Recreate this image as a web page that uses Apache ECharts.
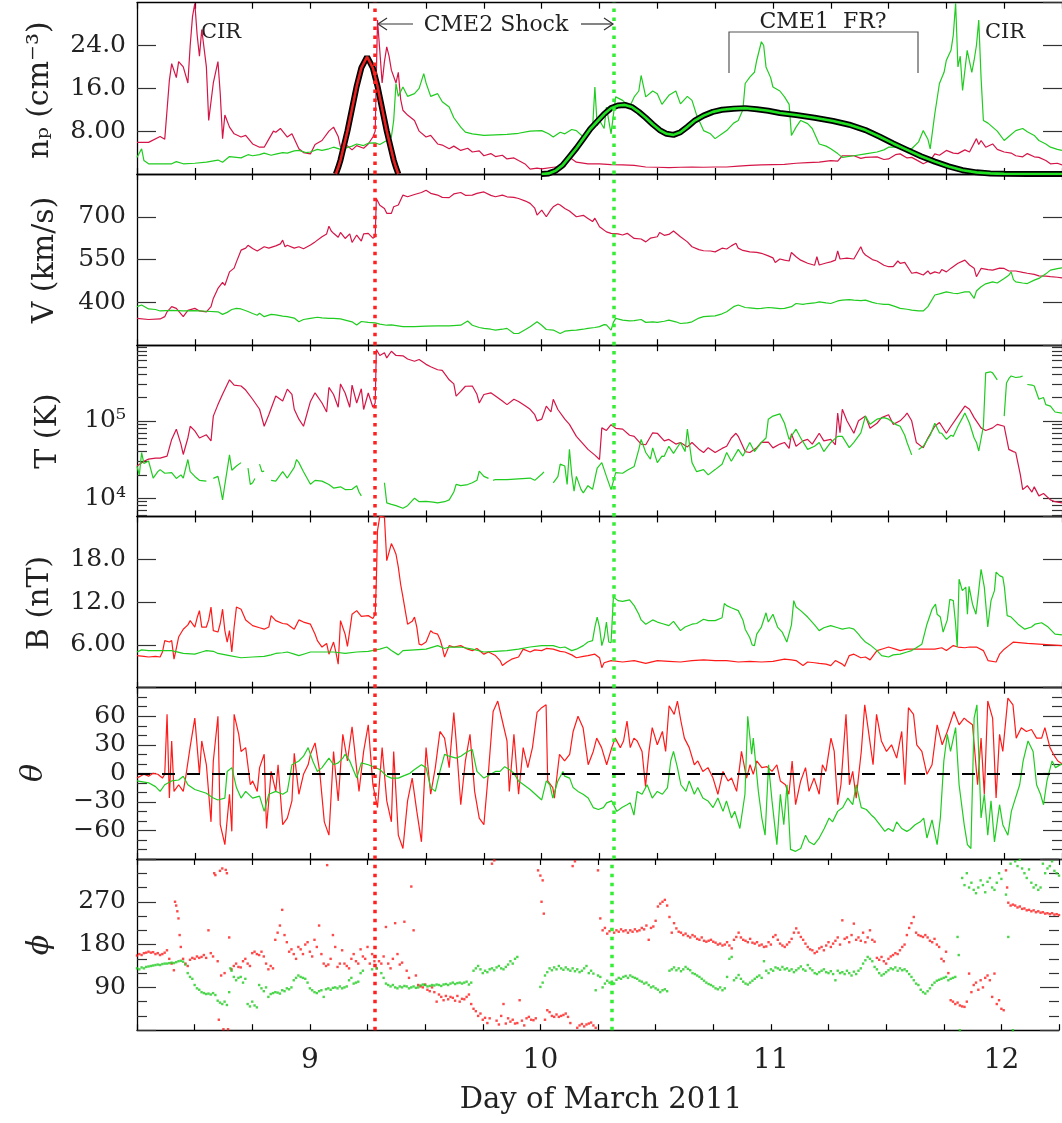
<!DOCTYPE html>
<html>
<head>
<meta charset="utf-8">
<title>Day of March 2011</title>
<script src="https://cdn.jsdelivr.net/npm/echarts@6.0.0/dist/echarts.min.js"></script>
<style>
  html, body { margin: 0; padding: 0; background: #fff; }
  #main { width: 1062px; height: 1123px; }
</style>
</head>
<body>
<div id="main"></div>
<script>
// day of March 2011
const dayMin = 8.25
const dayMax = 12.25
const shockRed = 9.28
const shockGreen = 10.31

// n_p (cm^-3)
const npRed = [[8.25,5.9],[8.30,5.9],[8.35,7.0],[8.37,6.5],[8.38,12],[8.39,17.5],[8.40,20.6],[8.42,18],[8.43,21],[8.45,20],[8.47,17],[8.48,24],[8.49,29.4],[8.50,31.9],[8.51,26],[8.52,22],[8.53,27],[8.55,20],[8.56,10],[8.58,17],[8.60,21],[8.61,15],[8.62,6.6],[8.63,11],[8.65,8.75],[8.67,7.5],[8.70,6.9],[8.72,7.2],[8.75,5.6],[8.78,5.0],[8.80,5.0],[8.82,6.5],[8.84,8.0],[8.85,7.8],[8.87,8.5],[8.90,6.9],[8.92,7.5],[8.95,4.7],[8.97,4.0],[9.00,3.75],[9.02,5.5],[9.05,6.25],[9.08,8.0],[9.10,8.75],[9.12,7.0],[9.13,5.0],[9.15,5.6],[9.18,4.5],[9.20,5.3],[9.23,4.8],[9.25,5.6],[9.27,6.9],[9.28,8],[9.29,28.75],[9.30,23],[9.31,17],[9.32,21],[9.33,23.75],[9.34,22],[9.35,19.4],[9.37,17],[9.38,19],[9.39,14],[9.40,11.9],[9.42,11],[9.45,10],[9.47,8],[9.50,6.9],[9.52,7.2],[9.55,5.6],[9.57,5.4],[9.60,4.7],[9.62,5.2],[9.65,4.4],[9.68,4.8],[9.70,4.1],[9.73,4.3],[9.75,3.4],[9.78,3.8],[9.80,3.25],[9.83,3.5],[9.85,2.8],[9.88,3.0],[9.90,2.5],[9.93,1.8],[9.95,0.9],[9.98,1.1],[10.0,0.95],[10.05,1.25],[10.10,1.4],[10.12,3.1],[10.15,2.2],[10.20,1.9],[10.25,1.9],[10.30,1.75],[10.35,1.7],[10.40,1.6],[10.45,1.3],[10.50,1.25],[10.55,1.2],[10.60,1.25],[10.65,1.3],[10.70,1.25],[10.75,1.3],[10.80,1.3],[10.85,1.45],[10.90,1.6],[10.95,1.7],[11.0,1.75],[11.05,1.8],[11.10,2.0],[11.15,2.1],[11.20,2.2],[11.25,2.5],[11.28,2.4],[11.30,3.4],[11.35,3.4],[11.38,2.9],[11.40,3.1],[11.45,3.2],[11.48,2.7],[11.50,2.8],[11.53,3.6],[11.55,3.75],[11.58,3.0],[11.60,3.1],[11.63,2.4],[11.65,1.9],[11.68,2.5],[11.70,3.75],[11.72,3.5],[11.75,4.4],[11.78,3.9],[11.80,3.8],[11.83,4.5],[11.85,4.1],[11.88,6.6],[11.89,5.5],[11.90,6.25],[11.92,5.0],[11.95,5.6],[11.97,4.6],[12.0,4.1],[12.03,3.9],[12.05,3.4],[12.08,3.2],[12.10,3.8],[12.13,3.2],[12.15,3.1],[12.18,2.5],[12.20,1.9],[12.23,2.0],[12.25,1.7]]
const npGreen = [[8.25,3.1],[8.27,4.7],[8.28,2.5],[8.30,1.9],[8.35,1.9],[8.40,1.9],[8.42,2.3],[8.45,1.9],[8.50,2.0],[8.55,2.2],[8.60,2.6],[8.62,2.2],[8.65,3.25],[8.70,3.0],[8.73,3.6],[8.75,3.4],[8.78,3.6],[8.80,3.9],[8.83,3.5],[8.85,3.7],[8.88,4.0],[8.90,3.9],[8.93,4.3],[8.95,4.4],[8.98,4.0],[9.00,4.1],[9.03,4.6],[9.05,4.4],[9.08,4.7],[9.10,5.0],[9.13,4.6],[9.15,4.8],[9.18,5.2],[9.20,5.6],[9.23,5.3],[9.25,5.75],[9.28,5.8],[9.30,5.5],[9.33,6.25],[9.35,6.9],[9.36,10],[9.37,16.9],[9.38,14.5],[9.40,16.25],[9.42,14.5],[9.45,15],[9.47,16],[9.49,18.75],[9.50,17],[9.52,14.5],[9.55,15],[9.57,13.5],[9.60,12.5],[9.62,10.5],[9.65,8.75],[9.67,7.8],[9.70,7.5],[9.75,7.2],[9.80,7.3],[9.85,7.4],[9.90,7.6],[9.95,8.0],[10.0,8.1],[10.03,7.5],[10.05,6.9],[10.08,7.8],[10.10,7.5],[10.13,8.3],[10.15,8.1],[10.18,6.9],[10.20,7.8],[10.22,8.5],[10.23,16.25],[10.24,9],[10.25,10],[10.27,8.5],[10.28,12.5],[10.30,7.5],[10.31,11],[10.32,14.4],[10.35,13.75],[10.38,12.5],[10.40,14.4],[10.42,15.5],[10.43,18.4],[10.45,14.4],[10.48,15.5],[10.50,15],[10.52,13],[10.55,14.7],[10.58,15.5],[10.60,13.1],[10.63,14.5],[10.65,13.75],[10.67,11],[10.70,8.1],[10.73,7.5],[10.75,6.6],[10.78,7.5],[10.80,8.1],[10.83,9.5],[10.85,10],[10.87,12],[10.88,16.9],[10.90,18.1],[10.92,19],[10.93,21.25],[10.95,24.7],[10.96,24],[10.97,20],[10.99,18],[11.0,16.25],[11.03,15.5],[11.05,14.4],[11.07,13],[11.08,7.2],[11.10,8.75],[11.12,10],[11.15,9.4],[11.17,8.5],[11.20,5.6],[11.23,5.2],[11.25,4.7],[11.28,3.8],[11.30,3.1],[11.35,3.4],[11.40,3.75],[11.45,4.1],[11.48,4.5],[11.50,5],[11.55,5.0],[11.60,4.7],[11.63,6.0],[11.65,8.1],[11.67,6.5],[11.68,4.7],[11.70,11.25],[11.72,16.9],[11.74,19],[11.75,21.25],[11.77,23.1],[11.78,26],[11.79,31.9],[11.80,20],[11.81,22],[11.82,15.6],[11.84,23.1],[11.86,19],[11.87,21.25],[11.88,24],[11.89,28.75],[11.90,18],[11.91,10],[11.93,9.5],[11.95,8.75],[11.97,8.0],[12.0,6.25],[12.02,7.0],[12.05,8.1],[12.08,8.5],[12.10,7.9],[12.13,7.2],[12.15,6.25],[12.18,5.6],[12.20,5.0],[12.23,4.6],[12.25,4.4]]
// fitted profiles drawn over the density
const npRedFit = [[9.11,0],[9.12,1.2],[9.13,2.6],[9.14,4.4],[9.16,8.0],[9.18,12.2],[9.20,16.4],[9.22,19.8],[9.245,21.9],[9.27,19.8],[9.29,16.4],[9.31,12.2],[9.33,8.0],[9.35,4.4],[9.36,2.6],[9.37,1.2],[9.38,0]]
const npGreenFit = [[10.0,0],[10.03,0.1],[10.06,0.6],[10.09,1.6],[10.12,3.2],[10.15,4.8],[10.18,6.6],[10.21,8.4],[10.24,9.8],[10.27,11.2],[10.30,12.3],[10.33,12.8],[10.36,12.9],[10.39,12.5],[10.42,11.6],[10.45,10.5],[10.48,9.3],[10.51,8.2],[10.54,7.5],[10.57,7.3],[10.60,7.8],[10.63,8.8],[10.66,9.9],[10.70,10.9],[10.74,11.6],[10.78,12.0],[10.83,12.2],[10.88,12.3],[10.93,12.1],[10.98,11.8],[11.03,11.4],[11.10,11.0],[11.18,10.5],[11.26,9.9],[11.33,9.2],[11.40,8.2],[11.46,7.0],[11.52,5.7],[11.58,4.5],[11.64,3.3],[11.70,2.3],[11.76,1.4],[11.82,0.7],[11.88,0.3],[11.94,0.1],[12.0,0.02],[12.1,0],[12.25,0]]

// V (km/s)
const vRed = [[8.25,344],[8.30,340],[8.35,342],[8.37,350],[8.38,367],[8.40,385],[8.42,379],[8.44,360],[8.45,350],[8.47,372],[8.50,379],[8.52,370],[8.55,367],[8.57,385],[8.58,414],[8.60,449],[8.62,470],[8.63,460],[8.65,507],[8.67,520],[8.68,542],[8.70,583],[8.72,590],[8.73,600],[8.75,589],[8.77,580],[8.80,595],[8.82,590],[8.85,598],[8.87,605],[8.88,618],[8.89,595],[8.90,600],[8.93,590],[8.95,595],[8.97,588],[9.00,601],[9.02,612],[9.05,630],[9.07,640],[9.08,667],[9.09,650],[9.10,642],[9.12,628],[9.13,645],[9.15,624],[9.17,640],[9.18,610],[9.20,636],[9.22,615],[9.23,640],[9.25,642],[9.27,625],[9.28,630],[9.285,764],[9.30,740],[9.32,729],[9.33,712],[9.35,712],[9.36,735],[9.38,741],[9.40,776],[9.42,770],[9.45,778],[9.48,785],[9.50,793],[9.52,782],[9.55,776],[9.57,768],[9.60,767],[9.62,780],[9.65,785],[9.67,775],[9.70,776],[9.72,782],[9.75,787],[9.78,775],[9.80,770],[9.83,776],[9.85,770],[9.88,768],[9.90,764],[9.93,755],[9.95,747],[9.97,730],[9.98,706],[10.0,723],[10.02,700],[10.04,725],[10.05,735],[10.07,745],[10.08,741],[10.10,729],[10.12,720],[10.15,700],[10.18,705],[10.20,694],[10.22,683],[10.23,695],[10.25,665],[10.28,647],[10.30,642],[10.33,640],[10.35,636],[10.37,642],[10.40,624],[10.43,622],[10.45,612],[10.47,625],[10.50,630],[10.51,645],[10.53,635],[10.55,638],[10.57,650],[10.60,630],[10.63,612],[10.65,595],[10.68,585],[10.70,581],[10.73,580],[10.75,577],[10.78,590],[10.80,587],[10.82,598],[10.84,607],[10.85,590],[10.87,582],[10.90,577],[10.93,575],[10.95,572],[10.98,563],[11.0,556],[11.01,540],[11.03,552],[11.05,548],[11.07,545],[11.08,575],[11.10,560],[11.12,548],[11.15,537],[11.18,530],[11.19,560],[11.20,531],[11.23,538],[11.25,542],[11.27,548],[11.28,580],[11.29,552],[11.32,555],[11.35,552],[11.38,595],[11.39,575],[11.40,566],[11.43,550],[11.45,545],[11.48,530],[11.50,525],[11.52,525],[11.54,545],[11.55,537],[11.57,540],[11.60,502],[11.62,505],[11.65,496],[11.67,510],[11.68,500],[11.70,507],[11.72,502],[11.73,515],[11.75,507],[11.77,520],[11.80,537],[11.83,548],[11.85,531],[11.87,520],[11.88,490],[11.90,519],[11.93,515],[11.95,513],[11.98,520],[12.0,519],[12.02,510],[12.05,510],[12.08,505],[12.10,502],[12.13,498],[12.15,493],[12.18,492],[12.20,490],[12.23,488],[12.25,486]]
const vGreen = [[8.25,385],[8.27,391],[8.30,377],[8.33,375],[8.35,370],[8.40,372],[8.45,370],[8.50,371],[8.55,369],[8.60,367],[8.62,358],[8.64,365],[8.66,375],[8.68,379],[8.70,377],[8.73,368],[8.75,361],[8.77,355],[8.78,362],[8.80,350],[8.83,358],[8.85,356],[8.88,352],[8.90,350],[8.93,345],[8.95,332],[8.97,340],[9.00,344],[9.03,348],[9.05,346],[9.08,344],[9.10,344],[9.13,342],[9.15,338],[9.18,332],[9.20,321],[9.22,333],[9.25,330],[9.28,328],[9.30,324],[9.33,320],[9.35,321],[9.40,315],[9.45,315],[9.50,317],[9.55,318],[9.60,318],[9.65,320],[9.68,335],[9.70,320],[9.73,312],[9.75,309],[9.78,306],[9.80,303],[9.83,306],[9.85,309],[9.88,291],[9.90,291],[9.93,305],[9.95,315],[9.98,332],[10.0,320],[10.02,305],[10.05,303],[10.08,291],[10.10,299],[10.13,302],[10.15,303],[10.18,306],[10.20,309],[10.23,312],[10.25,315],[10.27,322],[10.28,321],[10.30,303],[10.31,330],[10.32,344],[10.35,338],[10.38,335],[10.40,336],[10.43,340],[10.45,330],[10.48,332],[10.50,330],[10.53,334],[10.55,338],[10.58,332],[10.60,326],[10.63,328],[10.65,332],[10.68,345],[10.70,350],[10.73,352],[10.75,353],[10.78,360],[10.80,367],[10.83,385],[10.85,391],[10.88,382],[10.90,381],[10.93,378],[10.95,379],[10.98,382],[11.0,381],[11.03,378],[11.05,379],[11.08,385],[11.10,396],[11.13,393],[11.15,396],[11.18,398],[11.20,402],[11.23,398],[11.25,396],[11.28,405],[11.30,408],[11.33,410],[11.35,408],[11.38,406],[11.40,408],[11.43,400],[11.45,396],[11.48,393],[11.50,393],[11.53,385],[11.55,379],[11.58,376],[11.60,373],[11.63,370],[11.65,370],[11.67,385],[11.70,426],[11.72,430],[11.75,437],[11.78,432],[11.80,431],[11.83,437],[11.85,437],[11.87,414],[11.88,440],[11.90,455],[11.92,465],[11.95,472],[11.97,468],[12.0,484],[12.02,495],[12.03,507],[12.04,480],[12.05,472],[12.08,468],[12.10,466],[12.13,478],[12.15,484],[12.18,500],[12.20,513],[12.23,518],[12.25,521]]

// T (K), '-' marks data gaps
const tRed = [[8.25,2.6e4],[8.28,3.0e4],[8.30,3.2e4],[8.33,3.3e4],[8.35,3.3e4],[8.38,3.5e4],[8.40,5.75e4],[8.42,7.8e4],[8.44,5.0e4],[8.45,3.67e4],[8.47,6.0e4],[8.48,8.5e4],[8.50,7.4e4],[8.52,6.0e4],[8.55,6.6e4],[8.57,5.5e4],[8.58,1.15e5],[8.60,1.62e5],[8.62,2.2e5],[8.65,3.39e5],[8.67,2.9e5],[8.70,2.82e5],[8.72,2.5e5],[8.75,1.9e5],[8.78,1.41e5],[8.80,8.5e4],[8.82,1.2e5],[8.85,2.09e5],[8.88,1.8e5],[8.90,2.57e5],[8.92,2.2e5],[8.93,1.41e5],[8.95,1.05e5],[8.97,8.5e4],[9.00,1.78e5],[9.02,2.3e5],[9.05,1.7e5],[9.07,1.3e5],[9.08,2.7e5],[9.10,2.19e5],[9.12,1.5e5],[9.13,3.0e5],[9.15,2.29e5],[9.17,1.5e5],[9.18,2.9e5],[9.20,1.7e5],[9.22,2.6e5],[9.23,1.4e5],[9.25,2.29e5],[9.27,1.5e5],[9.28,1.7e5],[9.285,8.32e5],[9.30,7.0e5],[9.32,7.59e5],[9.33,6.5e5],[9.35,7.94e5],[9.37,7.0e5],[9.40,6.92e5],[9.42,6.3e5],[9.45,5.89e5],[9.47,6.2e5],[9.50,5.37e5],[9.52,5.0e5],[9.55,4.57e5],[9.57,4.5e5],[9.60,3.39e5],[9.62,3.0e5],[9.63,2.09e5],[9.65,2.4e5],[9.67,2.8e5],[9.70,2.82e5],[9.72,2.2e5],[9.73,1.7e5],[9.75,2.19e5],[9.78,2.3e5],[9.80,2.09e5],[9.83,1.8e5],[9.85,1.62e5],[9.88,1.9e5],[9.90,1.78e5],[9.93,1.55e5],[9.95,1.41e5],[9.97,1.2e5],[9.98,1.0e5],[10.0,1.05e5],[10.02,1.55e5],[10.04,1.3e5],[10.05,1.9e5],[10.07,1.4e5],[10.10,1.05e5],[10.12,9.0e4],[10.15,6.3e4],[10.18,5.0e4],[10.20,4.27e4],[10.23,3.6e4],[10.25,3.16e4],[10.26,8.1e4],[10.28,7.5e4],[10.30,8.9e4],[10.32,8.0e4],[10.35,7.8e4],[10.38,6.5e4],[10.40,6.3e4],[10.43,5.0e4],[10.45,4.9e4],[10.48,7.0e4],[10.50,6.9e4],[10.53,5.5e4],[10.55,5.75e4],[10.58,5.0e4],[10.60,5.25e4],[10.63,4.6e4],[10.65,5.25e4],[10.68,4.3e4],[10.70,3.89e4],[10.72,4.5e4],[10.75,3.89e4],[10.78,4.4e4],[10.80,4.68e4],[10.82,6.0e4],[10.84,6.9e4],[10.85,6.3e4],[10.88,4.0e4],[10.90,3.89e4],[10.93,4.5e4],[10.95,5.25e4],[10.98,5.3e4],[11.0,4.47e4],[11.03,5.0e4],[11.05,5.25e4],[11.07,4.4e4],[11.08,6.8e4],[11.10,4.68e4],[11.13,5.5e4],[11.15,5.75e4],[11.17,5.0e4],[11.20,6.9e4],[11.22,5.5e4],[11.25,5.75e4],[11.27,4.9e4],[11.28,1.26e5],[11.29,7.0e4],[11.30,1.41e5],[11.32,1.0e5],[11.35,6.9e4],[11.37,1.0e5],[11.40,1.15e5],[11.42,8.0e4],[11.45,9.3e4],[11.47,1.1e5],[11.50,1.2e5],[11.52,9.0e4],[11.55,1.0e5],[11.57,1.15e5],[11.58,1.26e5],[11.60,1.0e5],[11.62,5.25e4],[11.65,4.47e4],[11.67,6.0e4],[11.70,8.5e4],[11.72,9.5e4],[11.75,6.9e4],[11.77,8.5e4],[11.80,1.15e5],[11.83,1.55e5],[11.85,1.41e5],[11.87,1.1e5],[11.90,8.1e4],[11.92,7.5e4],[11.95,8.1e4],[11.97,9.0e4],[12.0,8.5e4],[12.02,4.27e4],[12.04,4.0e4],[12.05,3.89e4],[12.07,2.0e4],[12.08,1.29e4],[12.10,1.45e4],[12.12,1.2e4],[12.13,1.4e4],[12.15,1.07e4],[12.17,1.15e4],[12.20,9.5e3],[12.22,9.0e3],[12.25,8.7e3]]
const tGreen = [[8.25,2.57e4],[8.26,2.0e4],[8.27,3.89e4],[8.28,2.8e4],[8.30,3.02e4],[8.32,1.82e4],[8.34,2.2e4],[8.35,2.34e4],[8.37,2.1e4],[8.40,2.14e4],[8.42,1.8e4],[8.44,2.0e4],[8.45,1.82e4],[8.47,3.16e4],[8.48,2.2e4],[8.50,1.91e4],[8.52,1.7e4],[8.55,1.66e4],[8.56,'-'],[8.58,1.8e4],[8.60,1.91e4],[8.61,1.4e4],[8.62,9.5e3],[8.63,1.5e4],[8.65,3.63e4],[8.66,2.3e4],[8.68,2.6e4],[8.70,2.88e4],[8.71,'-'],[8.73,2.45e4],[8.74,1.5e4],[8.75,1.58e4],[8.76,1.8e4],[8.765,'-'],[8.78,2.75e4],[8.79,2.2e4],[8.80,2.24e4],[8.81,'-'],[8.83,1.7e4],[8.85,1.66e4],[8.88,2.2e4],[8.90,1.82e4],[8.93,2.5e4],[8.94,3.16e4],[8.95,2.88e4],[8.97,2.2e4],[9.00,1.51e4],[9.02,1.7e4],[9.05,1.66e4],[9.08,1.5e4],[9.10,1.35e4],[9.13,1.4e4],[9.15,1.29e4],[9.18,1.3e4],[9.20,1.45e4],[9.21,1.2e4],[9.22,1.07e4],[9.23,'-'],[9.32,1.58e4],[9.33,8.7e3],[9.35,8.3e3],[9.37,8.0e3],[9.40,7.4e3],[9.42,8.0e3],[9.45,1.0e4],[9.47,9.0e3],[9.50,9.1e3],[9.53,8.9e3],[9.55,8.7e3],[9.58,9.0e3],[9.60,9.5e3],[9.62,1.2e4],[9.63,1.51e4],[9.65,1.45e4],[9.68,1.5e4],[9.70,1.58e4],[9.72,1.7e4],[9.73,2.24e4],[9.75,1.91e4],[9.77,1.8e4],[9.78,'-'],[9.79,1.7e4],[9.80,1.74e4],[9.85,1.74e4],[9.90,1.78e4],[9.95,1.82e4],[9.97,1.7e4],[10.0,2.04e4],[10.01,2.19e4],[10.02,'-'],[10.05,1.58e4],[10.07,1.9e4],[10.08,2.75e4],[10.10,2.6e4],[10.11,1.5e4],[10.12,4.27e4],[10.13,2.0e4],[10.14,1.23e4],[10.15,1.91e4],[10.17,1.3e4],[10.18,1.17e4],[10.20,1.45e4],[10.22,1.3e4],[10.24,2.45e4],[10.26,2.88e4],[10.28,1.91e4],[10.30,1.29e4],[10.32,2.14e4],[10.35,2.1e4],[10.37,2.3e4],[10.40,2.57e4],[10.42,4.27e4],[10.43,5.75e4],[10.45,3.89e4],[10.47,3.2e4],[10.48,4.47e4],[10.50,2.88e4],[10.52,3.5e4],[10.53,3.47e4],[10.55,4.68e4],[10.57,3.8e4],[10.60,5.25e4],[10.62,4.0e4],[10.63,7.8e4],[10.65,2.88e4],[10.67,2.2e4],[10.70,2.34e4],[10.72,2.0e4],[10.75,2.34e4],[10.78,2.75e4],[10.80,3.89e4],[10.82,3.0e4],[10.85,4.27e4],[10.87,3.5e4],[10.90,5.25e4],[10.92,4.0e4],[10.95,5.25e4],[10.97,6.0e4],[10.98,1.05e5],[11.0,1.15e5],[11.03,1.23e5],[11.05,9.3e4],[11.07,5.75e4],[11.10,7.8e4],[11.12,6.0e4],[11.15,4.27e4],[11.18,4.68e4],[11.20,5.25e4],[11.22,4.0e4],[11.25,5.25e4],[11.28,6.3e4],[11.30,6.3e4],[11.33,4.5e4],[11.35,5.25e4],[11.38,7.0e4],[11.40,1.15e5],[11.42,9.0e4],[11.45,1.05e5],[11.48,1.1e5],[11.50,1.05e5],[11.53,9.0e4],[11.55,8.5e4],[11.57,6.5e4],[11.58,5.25e4],[11.60,3.63e4],[11.61,'-'],[11.63,4.27e4],[11.65,4.68e4],[11.68,6.5e4],[11.70,9.3e4],[11.72,7.0e4],[11.73,6.9e4],[11.75,5.75e4],[11.77,6.5e4],[11.78,6.3e4],[11.80,8.5e4],[11.82,1.1e5],[11.83,1.26e5],[11.85,9.3e4],[11.87,6.0e4],[11.88,5.25e4],[11.89,4.07e4],[11.91,8.5e4],[11.92,4.17e5],[11.94,4.3e5],[11.95,4.17e5],[11.97,3.39e5],[11.98,'-'],[12.0,1.15e5],[12.01,3.09e5],[12.02,3.5e5],[12.03,3.8e5],[12.05,3.63e5],[12.07,3.7e5],[12.08,3.8e5],[12.09,'-'],[12.10,2.95e5],[12.12,2.9e5],[12.13,2.82e5],[12.15,1.9e5],[12.17,2.0e5],[12.18,1.62e5],[12.20,1.55e5],[12.22,1.3e5],[12.25,1.26e5]]

// B (nT)
const bRed = [[8.25,4.5],[8.28,4.4],[8.30,4.3],[8.33,4.4],[8.35,4.3],[8.36,5.0],[8.37,6.6],[8.39,6.4],[8.40,6.6],[8.41,4.0],[8.42,5.5],[8.43,7.1],[8.45,8.2],[8.47,8.8],[8.48,9.4],[8.50,8.5],[8.51,9.8],[8.52,10.8],[8.53,8.5],[8.55,8.5],[8.56,9.5],[8.57,11.3],[8.58,8.0],[8.60,7.8],[8.61,9.0],[8.62,11.0],[8.63,8.0],[8.64,6.4],[8.65,8.0],[8.66,5.0],[8.67,8.5],[8.68,11.3],[8.70,11.0],[8.72,9.5],[8.75,8.7],[8.78,8.4],[8.80,8.2],[8.82,8.5],[8.83,10.1],[8.85,9.4],[8.88,9.0],[8.90,8.9],[8.93,8.2],[8.95,9.5],[8.97,9.2],[9.00,8.9],[9.02,7.5],[9.03,6.6],[9.05,5.7],[9.07,6.2],[9.08,4.7],[9.10,6.4],[9.11,5.0],[9.12,3.3],[9.13,9.4],[9.15,7.5],[9.16,5.8],[9.17,8.0],[9.18,10.3],[9.20,10.8],[9.22,10.0],[9.25,10.1],[9.27,9.7],[9.28,10.3],[9.285,15],[9.29,22],[9.30,24],[9.32,23.9],[9.33,17.8],[9.34,19],[9.35,20.2],[9.36,19.5],[9.37,18.7],[9.38,16.9],[9.39,14.5],[9.40,12.7],[9.42,8.9],[9.44,9.3],[9.45,9.9],[9.46,8.5],[9.47,6.1],[9.48,6.0],[9.50,6.4],[9.52,8.0],[9.53,7.7],[9.55,7.5],[9.56,6.8],[9.57,5.7],[9.58,4.3],[9.60,5.9],[9.62,5.7],[9.65,5.9],[9.68,5.4],[9.70,5.2],[9.72,5.5],[9.75,4.7],[9.77,5.0],[9.80,4.5],[9.82,3.8],[9.83,3.1],[9.85,3.6],[9.87,4.0],[9.90,4.3],[9.92,5.4],[9.95,5.0],[9.97,5.3],[10.0,5.2],[10.02,5.5],[10.05,5.4],[10.08,5.1],[10.10,5.0],[10.13,4.6],[10.15,4.2],[10.18,4.4],[10.20,4.5],[10.23,4.7],[10.25,4.2],[10.26,2.8],[10.27,3.5],[10.30,3.8],[10.35,3.6],[10.40,3.8],[10.45,3.4],[10.50,3.8],[10.55,3.7],[10.60,3.6],[10.65,3.8],[10.70,3.9],[10.75,3.8],[10.80,3.8],[10.85,3.6],[10.90,3.7],[10.95,3.6],[11.0,3.7],[11.05,4.0],[11.08,3.9],[11.10,3.8],[11.13,3.1],[11.15,3.6],[11.18,3.5],[11.20,3.4],[11.23,3.3],[11.25,3.1],[11.27,3.8],[11.30,3.3],[11.31,3.0],[11.33,4.5],[11.35,4.7],[11.38,4.2],[11.40,4.3],[11.42,3.9],[11.45,5.2],[11.48,5.5],[11.50,5.7],[11.53,5.4],[11.55,5.2],[11.58,5.4],[11.60,5.4],[11.65,5.4],[11.70,5.4],[11.73,5.6],[11.75,5.2],[11.78,5.9],[11.80,5.7],[11.83,5.6],[11.85,5.7],[11.88,5.7],[11.91,5.2],[11.93,3.8],[11.965,3.6],[11.98,4.7],[12.0,5.4],[12.02,5.9],[12.04,6.4],[12.10,6.2],[12.15,6.1],[12.20,6.0],[12.25,5.9]]
const bGreen = [[8.25,5.0],[8.27,5.3],[8.30,5.2],[8.35,5.2],[8.40,5.2],[8.45,4.8],[8.50,4.7],[8.53,5.0],[8.55,5.2],[8.58,5.1],[8.60,4.8],[8.65,4.5],[8.70,4.2],[8.75,4.3],[8.80,4.4],[8.83,4.6],[8.85,4.8],[8.88,4.9],[8.90,5.0],[8.93,4.7],[8.95,4.5],[8.98,4.8],[9.00,5.0],[9.05,5.0],[9.10,5.0],[9.15,4.8],[9.20,5.0],[9.25,5.1],[9.30,5.4],[9.33,5.7],[9.35,5.2],[9.38,4.6],[9.40,5.2],[9.45,5.3],[9.50,5.4],[9.55,5.9],[9.58,5.5],[9.60,5.7],[9.65,5.7],[9.70,5.4],[9.75,5.0],[9.80,5.1],[9.85,5.2],[9.90,5.4],[9.95,5.7],[10.0,5.9],[10.05,5.9],[10.08,5.6],[10.10,5.7],[10.13,5.2],[10.15,5.4],[10.18,5.9],[10.20,6.4],[10.22,6.6],[10.23,8.5],[10.24,9.9],[10.25,8.5],[10.26,5.9],[10.27,7.0],[10.28,9.2],[10.29,6.4],[10.30,6.3],[10.31,12.7],[10.33,12.2],[10.35,12.1],[10.38,12.3],[10.40,11.5],[10.42,10.3],[10.43,9.5],[10.45,8.9],[10.48,9.5],[10.50,9.2],[10.52,9.0],[10.55,8.7],[10.57,9.3],[10.60,8.0],[10.62,8.5],[10.65,8.9],[10.67,9.0],[10.70,9.6],[10.72,9.4],[10.75,9.4],[10.78,9.8],[10.79,11.8],[10.80,11.5],[10.82,11.2],[10.85,10.8],[10.87,9.5],[10.88,8.2],[10.90,7.0],[10.91,6.0],[10.92,5.9],[10.93,7.5],[10.95,8.5],[10.97,10.5],[10.98,9.2],[11.0,10.3],[11.02,8.5],[11.04,7.8],[11.06,6.4],[11.08,8.8],[11.09,12.2],[11.10,11.3],[11.12,10.8],[11.15,9.9],[11.18,8.8],[11.20,8.0],[11.22,8.4],[11.25,8.7],[11.28,8.4],[11.30,8.2],[11.33,8.4],[11.35,8.2],[11.37,7.5],[11.38,7.1],[11.40,6.4],[11.42,6.0],[11.45,5.2],[11.47,4.5],[11.50,4.3],[11.52,4.6],[11.55,4.7],[11.58,5.0],[11.60,5.2],[11.62,5.6],[11.644,6.1],[11.666,8.9],[11.688,11.0],[11.703,11.7],[11.71,10.3],[11.724,9.9],[11.736,7.8],[11.754,9.5],[11.765,12.4],[11.78,12.2],[11.79,8.9],[11.797,5.7],[11.805,15.2],[11.819,13.6],[11.834,14.1],[11.841,10.3],[11.848,14.2],[11.863,11.7],[11.878,10.3],[11.885,12.2],[11.90,16.6],[11.914,14.1],[11.929,8.5],[11.943,12.2],[11.958,13.6],[11.965,16.2],[11.98,15.7],[11.994,15.5],[12.001,14.1],[12.013,10.1],[12.03,9.9],[12.06,8.9],[12.089,8.2],[12.118,8.5],[12.133,8.9],[12.162,9.1],[12.19,8.5],[12.22,7.5],[12.25,7.4]]

// theta (deg)
const thRed = [[8.25,-5],[8.28,-1],[8.30,-3],[8.32,0],[8.34,-1],[8.36,-5],[8.37,-1],[8.38,62],[8.39,-26],[8.40,34],[8.41,-19],[8.43,-12],[8.45,-19],[8.46,-5],[8.48,28],[8.50,58],[8.52,-1],[8.53,34],[8.55,9],[8.57,-51],[8.58,13],[8.60,60],[8.61,-54],[8.63,-75],[8.65,-22],[8.66,-61],[8.67,62],[8.69,41],[8.70,23],[8.72,27],[8.74,-12],[8.75,-8],[8.77,-19],[8.78,6],[8.80,20],[8.81,-58],[8.83,2],[8.85,-19],[8.86,9],[8.88,-54],[8.90,-47],[8.92,-29],[8.93,21],[8.95,-22],[8.97,-1],[8.99,9],[9.00,20],[9.02,32],[9.04,2],[9.06,-51],[9.08,-65],[9.10,23],[9.12,-29],[9.14,41],[9.16,13],[9.18,49],[9.19,27],[9.21,-19],[9.23,23],[9.25,51],[9.27,-12],[9.29,-36],[9.31,27],[9.33,-29],[9.35,-51],[9.36,23],[9.38,-65],[9.40,-79],[9.42,-29],[9.44,-5],[9.46,-40],[9.48,-72],[9.50,27],[9.52,-22],[9.54,6],[9.56,44],[9.58,37],[9.60,6],[9.62,64],[9.63,34],[9.65,-33],[9.67,13],[9.69,41],[9.71,-19],[9.73,-47],[9.75,-54],[9.77,2],[9.79,65],[9.81,76],[9.83,55],[9.85,34],[9.86,-19],[9.88,41],[9.90,-22],[9.92,27],[9.94,6],[9.96,27],[9.98,64],[10.0,69],[10.019,72],[10.026,-8],[10.048,-15],[10.055,-26],[10.077,20],[10.099,13],[10.121,20],[10.136,44],[10.157,60],[10.179,48],[10.201,9],[10.223,23],[10.238,37],[10.259,27],[10.281,9],[10.303,27],[10.318,37],[10.34,27],[10.354,34],[10.369,55],[10.383,27],[10.399,37],[10.413,34],[10.434,23],[10.449,-14],[10.464,23],[10.478,48],[10.5,30],[10.522,44],[10.536,23],[10.551,71],[10.573,62],[10.587,76],[10.602,55],[10.617,37],[10.638,27],[10.66,9],[10.675,13],[10.697,2],[10.719,6],[10.741,-5],[10.762,-22],[10.784,2],[10.806,-8],[10.821,-5],[10.843,-19],[10.864,23],[10.886,-5],[10.901,9],[10.915,-1],[10.93,13],[10.952,6],[10.974,7],[10.996,2],[11.017,9],[11.032,-8],[11.054,-12],[11.069,-22],[11.083,13],[11.098,-33],[11.12,-8],[11.141,6],[11.156,-19],[11.178,-5],[11.2,-22],[11.214,9],[11.229,2],[11.251,37],[11.265,23],[11.28,-33],[11.294,-12],[11.316,62],[11.331,-12],[11.345,2],[11.36,-26],[11.382,23],[11.397,72],[11.411,48],[11.433,9],[11.448,62],[11.469,34],[11.491,23],[11.513,30],[11.535,16],[11.557,44],[11.571,-12],[11.586,69],[11.608,62],[11.622,30],[11.644,23],[11.666,-1],[11.688,9],[11.71,51],[11.732,30],[11.754,44],[11.783,65],[11.805,51],[11.827,58],[11.841,55],[11.863,51],[11.885,-12],[11.9,37],[11.914,-22],[11.929,76],[11.95,58],[11.965,-26],[11.98,41],[11.994,23],[12.016,79],[12.038,72],[12.052,37],[12.074,48],[12.096,44],[12.118,46],[12.14,37],[12.162,37],[12.176,48],[12.198,27],[12.213,20],[12.232,13],[12.25,10]]
const thGreen = [[8.25,-8],[8.30,-10],[8.33,-14],[8.35,-19],[8.37,-12],[8.40,-8],[8.43,-7],[8.45,-3],[8.47,-12],[8.50,-17],[8.55,-21],[8.58,-26],[8.60,-28],[8.63,-26],[8.64,2],[8.66,6],[8.68,-15],[8.70,-26],[8.72,-19],[8.75,-26],[8.78,-24],[8.80,-40],[8.82,-22],[8.85,-19],[8.88,-22],[8.90,-19],[8.92,9],[8.95,13],[8.97,18],[8.99,27],[9.01,13],[9.03,2],[9.05,6],[9.08,16],[9.10,9],[9.12,11],[9.14,16],[9.15,20],[9.17,13],[9.20,-5],[9.22,11],[9.25,9],[9.27,7],[9.30,4],[9.33,-3],[9.35,-5],[9.38,-5],[9.40,-3],[9.43,0],[9.45,4],[9.48,9],[9.50,6],[9.52,-15],[9.54,-19],[9.56,2],[9.58,20],[9.60,18],[9.63,16],[9.65,18],[9.68,23],[9.70,25],[9.72,2],[9.75,-5],[9.78,-1],[9.80,2],[9.82,2],[9.84,7],[9.86,4],[9.88,0],[9.90,-8],[9.95,-17],[10.0,-28],[10.02,-8],[10.035,-12],[10.048,-26],[10.07,-8],[10.092,2],[10.099,-3],[10.121,-5],[10.136,-15],[10.157,-19],[10.179,-22],[10.201,-26],[10.223,-36],[10.245,-38],[10.267,-36],[10.281,-31],[10.303,-29],[10.325,-40],[10.347,-36],[10.369,-33],[10.383,-31],[10.399,-44],[10.413,-19],[10.434,-22],[10.456,-12],[10.478,-26],[10.5,-19],[10.522,-22],[10.544,-15],[10.558,13],[10.57,23],[10.587,6],[10.602,-12],[10.624,-19],[10.638,-8],[10.66,-22],[10.675,-15],[10.697,-26],[10.719,-29],[10.741,-36],[10.762,-26],[10.784,-40],[10.799,-29],[10.821,-47],[10.835,-40],[10.857,-58],[10.879,-22],[10.891,60],[10.908,20],[10.915,37],[10.937,-19],[10.952,-47],[10.966,-65],[10.981,9],[10.996,-29],[11.017,-75],[11.032,-22],[11.047,-54],[11.061,-12],[11.076,-80],[11.098,-82],[11.12,-79],[11.141,-65],[11.156,-72],[11.178,-75],[11.2,-68],[11.222,-58],[11.243,-47],[11.258,-51],[11.28,-40],[11.302,-36],[11.324,-26],[11.345,-33],[11.36,-12],[11.382,-36],[11.404,-38],[11.426,-44],[11.44,-47],[11.462,-54],[11.484,-61],[11.499,-58],[11.52,-61],[11.535,-51],[11.557,-58],[11.579,-61],[11.593,-59],[11.615,-54],[11.637,-51],[11.652,-47],[11.666,-68],[11.688,-49],[11.71,-75],[11.724,-47],[11.739,13],[11.754,41],[11.768,23],[11.79,48],[11.805,-12],[11.827,-54],[11.841,-75],[11.856,-79],[11.87,58],[11.882,72],[11.9,-47],[11.914,-22],[11.929,-65],[11.943,-29],[11.958,-72],[11.98,-33],[11.994,-54],[12.016,-65],[12.031,-40],[12.045,-29],[12.067,-12],[12.082,13],[12.103,34],[12.125,23],[12.14,-12],[12.157,-22],[12.17,-33],[12.185,-8],[12.207,13],[12.222,6],[12.25,10]]

// phi (deg), one dot per sample
const phiRed = [[8.25,157],[8.26,160],[8.27,158],[8.28,162],[8.29,163],[8.30,165],[8.31,163],[8.32,164],[8.33,160],[8.34,162],[8.35,158],[8.36,160],[8.37,163],[8.38,168],[8.39,150],[8.40,140],[8.41,126],[8.415,270],[8.42,262],[8.425,250],[8.43,235],[8.435,200],[8.44,175],[8.45,150],[8.46,140],[8.47,135],[8.48,148],[8.49,152],[8.50,150],[8.51,155],[8.52,152],[8.53,154],[8.54,158],[8.55,152],[8.56,210],[8.57,162],[8.58,155],[8.585,330],[8.59,326],[8.60,145],[8.605,22],[8.61,335],[8.615,115],[8.62,340],[8.625,2],[8.63,120],[8.635,337],[8.64,330],[8.645,2],[8.65,195],[8.66,128],[8.67,135],[8.68,140],[8.69,133],[8.70,132],[8.71,145],[8.72,150],[8.73,140],[8.74,135],[8.75,162],[8.76,165],[8.77,160],[8.78,158],[8.79,165],[8.80,155],[8.81,140],[8.82,128],[8.83,135],[8.84,130],[8.85,190],[8.86,205],[8.87,220],[8.88,253],[8.89,200],[8.90,185],[8.91,165],[8.92,170],[8.93,160],[8.94,150],[8.95,175],[8.96,170],[8.97,160],[8.98,180],[8.99,185],[9.00,165],[9.01,155],[9.02,190],[9.03,175],[9.04,220],[9.05,160],[9.06,140],[9.07,135],[9.075,347],[9.08,138],[9.09,150],[9.10,200],[9.11,175],[9.12,133],[9.13,140],[9.14,168],[9.15,140],[9.16,135],[9.17,130],[9.18,150],[9.19,160],[9.20,145],[9.21,140],[9.22,170],[9.23,155],[9.24,150],[9.25,175],[9.26,140],[9.27,160],[9.28,145],[9.29,130],[9.30,145],[9.31,140],[9.32,155],[9.33,217],[9.34,140],[9.35,130],[9.36,150],[9.37,225],[9.38,160],[9.39,138],[9.40,142],[9.41,228],[9.42,125],[9.43,110],[9.44,302],[9.45,210],[9.46,115],[9.47,95],[9.48,92],[9.49,90],[9.50,96],[9.51,85],[9.52,82],[9.53,90],[9.54,80],[9.55,60],[9.56,75],[9.57,70],[9.58,63],[9.59,72],[9.60,65],[9.61,70],[9.62,68],[9.63,62],[9.64,72],[9.65,60],[9.66,66],[9.67,65],[9.68,70],[9.69,75],[9.70,55],[9.71,45],[9.72,40],[9.73,30],[9.74,35],[9.75,22],[9.76,26],[9.77,15],[9.78,25],[9.79,350],[9.80,357],[9.81,20],[9.82,12],[9.83,30],[9.84,55],[9.85,14],[9.86,25],[9.87,18],[9.88,22],[9.89,14],[9.90,15],[9.91,63],[9.92,20],[9.93,10],[9.94,25],[9.95,28],[9.96,22],[9.97,21],[9.98,25],[9.99,336],[10.0,325],[10.005,270],[10.01,315],[10.015,245],[10.02,22],[10.03,42],[10.04,38],[10.05,30],[10.06,28],[10.07,33],[10.08,28],[10.09,30],[10.10,32],[10.11,35],[10.12,28],[10.13,15],[10.14,345],[10.15,355],[10.16,5],[10.17,10],[10.18,13],[10.19,8],[10.20,12],[10.21,14],[10.22,16],[10.23,10],[10.24,5],[10.25,336],[10.26,235],[10.27,210],[10.28,215],[10.29,203],[10.30,208],[10.31,212],[10.32,205],[10.33,210],[10.34,207],[10.35,212],[10.36,208],[10.37,210],[10.38,205],[10.39,210],[10.40,207],[10.41,212],[10.42,208],[10.43,210],[10.44,215],[10.45,212],[10.46,220],[10.47,190],[10.48,215],[10.49,218],[10.50,230],[10.51,260],[10.52,266],[10.53,270],[10.54,274],[10.55,262],[10.56,238],[10.57,205],[10.58,225],[10.59,214],[10.60,207],[10.61,205],[10.62,200],[10.63,203],[10.64,198],[10.65,195],[10.66,200],[10.67,197],[10.68,192],[10.69,190],[10.70,195],[10.71,188],[10.72,186],[10.73,188],[10.74,190],[10.75,186],[10.76,184],[10.77,180],[10.78,182],[10.79,178],[10.80,180],[10.81,185],[10.82,178],[10.83,172],[10.84,190],[10.85,196],[10.86,205],[10.87,195],[10.88,190],[10.89,188],[10.90,185],[10.91,192],[10.92,184],[10.93,182],[10.94,185],[10.95,178],[10.96,180],[10.97,175],[10.98,176],[10.99,185],[11.0,180],[11.01,196],[11.02,200],[11.03,190],[11.04,182],[11.05,178],[11.06,175],[11.07,180],[11.08,185],[11.09,192],[11.10,205],[11.11,214],[11.12,205],[11.13,196],[11.14,190],[11.15,182],[11.16,175],[11.17,170],[11.18,168],[11.19,162],[11.20,165],[11.21,172],[11.22,175],[11.23,168],[11.24,178],[11.25,185],[11.26,175],[11.27,182],[11.28,188],[11.29,195],[11.30,180],[11.31,231],[11.32,192],[11.33,195],[11.34,185],[11.35,200],[11.36,224],[11.37,190],[11.38,195],[11.39,188],[11.40,205],[11.41,185],[11.42,195],[11.43,210],[11.44,190],[11.45,186],[11.46,152],[11.47,148],[11.48,154],[11.49,145],[11.50,140],[11.51,150],[11.52,155],[11.53,158],[11.54,162],[11.55,160],[11.56,168],[11.57,175],[11.58,180],[11.59,200],[11.60,215],[11.61,225],[11.62,238],[11.63,205],[11.64,200],[11.65,198],[11.66,196],[11.67,200],[11.68,195],[11.69,188],[11.70,185],[11.71,192],[11.72,180],[11.73,175],[11.74,150],[11.75,145],[11.76,165],[11.77,120],[11.78,63],[11.79,60],[11.80,55],[11.81,58],[11.82,52],[11.83,50],[11.84,49],[11.85,60],[11.86,119],[11.87,80],[11.88,95],[11.89,100],[11.90,85],[11.91,105],[11.92,90],[11.93,110],[11.94,115],[11.95,105],[11.96,70],[11.97,119],[11.98,55],[11.99,63],[12.0,45],[12.01,42],[12.02,336],[12.025,300],[12.03,268],[12.04,262],[12.05,264],[12.06,262],[12.07,258],[12.08,260],[12.09,255],[12.10,256],[12.11,252],[12.12,253],[12.13,250],[12.14,252],[12.15,248],[12.16,250],[12.17,247],[12.18,248],[12.19,245],[12.20,246],[12.21,244],[12.22,246],[12.23,243],[12.24,244],[12.25,242]]
const phiGreen = [[8.25,130],[8.26,128],[8.27,132],[8.28,130],[8.29,133],[8.30,134],[8.31,135],[8.32,136],[8.33,137],[8.34,138],[8.35,137],[8.36,139],[8.37,140],[8.38,140],[8.39,141],[8.40,142],[8.41,141],[8.42,143],[8.43,145],[8.44,146],[8.45,144],[8.46,138],[8.47,120],[8.48,112],[8.49,108],[8.50,95],[8.51,88],[8.52,85],[8.53,80],[8.54,78],[8.55,76],[8.56,77],[8.57,75],[8.58,78],[8.59,74],[8.60,62],[8.61,58],[8.62,55],[8.63,60],[8.64,53],[8.65,80],[8.655,130],[8.66,125],[8.67,112],[8.68,105],[8.69,110],[8.70,112],[8.71,100],[8.72,108],[8.73,55],[8.74,50],[8.75,60],[8.76,52],[8.77,48],[8.78,95],[8.79,88],[8.80,82],[8.81,90],[8.82,70],[8.83,76],[8.84,78],[8.85,80],[8.86,79],[8.87,77],[8.88,84],[8.89,82],[8.90,88],[8.91,86],[8.92,90],[8.93,105],[8.94,110],[8.95,115],[8.96,112],[8.97,110],[8.98,108],[8.99,100],[9.00,88],[9.01,84],[9.02,80],[9.03,78],[9.04,82],[9.05,84],[9.06,70],[9.07,86],[9.08,88],[9.09,85],[9.10,89],[9.11,90],[9.12,88],[9.13,92],[9.14,88],[9.15,90],[9.16,92],[9.17,105],[9.18,110],[9.19,98],[9.20,100],[9.21,102],[9.22,120],[9.23,125],[9.27,128],[9.29,130],[9.31,120],[9.32,110],[9.33,98],[9.34,95],[9.35,92],[9.36,95],[9.37,90],[9.38,88],[9.39,92],[9.40,90],[9.41,93],[9.42,92],[9.43,88],[9.44,90],[9.45,92],[9.46,89],[9.47,90],[9.48,94],[9.49,96],[9.50,95],[9.51,92],[9.52,93],[9.53,95],[9.54,94],[9.55,96],[9.56,95],[9.57,93],[9.58,96],[9.59,97],[9.60,95],[9.61,98],[9.62,100],[9.63,97],[9.64,99],[9.65,100],[9.66,98],[9.67,100],[9.68,102],[9.69,96],[9.70,100],[9.71,125],[9.72,130],[9.73,135],[9.74,128],[9.75,120],[9.76,125],[9.77,122],[9.78,128],[9.79,130],[9.80,126],[9.81,132],[9.82,135],[9.83,130],[9.84,128],[9.85,133],[9.86,138],[9.87,145],[9.88,140],[9.89,150],[9.90,154],[10.0,91],[10.01,100],[10.02,115],[10.03,122],[10.04,130],[10.05,126],[10.06,132],[10.07,128],[10.08,135],[10.09,130],[10.10,127],[10.11,132],[10.12,128],[10.13,125],[10.14,130],[10.15,124],[10.16,128],[10.17,122],[10.18,125],[10.19,130],[10.20,135],[10.21,120],[10.22,125],[10.23,119],[10.24,84],[10.25,115],[10.26,112],[10.27,90],[10.28,98],[10.29,104],[10.30,100],[10.31,102],[10.32,98],[10.33,106],[10.34,110],[10.35,108],[10.36,112],[10.37,114],[10.38,110],[10.39,115],[10.40,112],[10.41,110],[10.42,108],[10.43,104],[10.44,102],[10.45,98],[10.46,100],[10.47,95],[10.48,90],[10.49,92],[10.50,88],[10.51,85],[10.52,80],[10.53,84],[10.54,86],[10.55,82],[10.56,125],[10.57,128],[10.58,132],[10.59,126],[10.60,130],[10.61,124],[10.62,128],[10.63,133],[10.64,129],[10.65,126],[10.66,120],[10.67,118],[10.68,115],[10.69,112],[10.70,108],[10.71,104],[10.72,100],[10.73,97],[10.74,95],[10.75,92],[10.76,88],[10.77,86],[10.78,90],[10.79,84],[10.80,88],[10.81,112],[10.82,150],[10.83,154],[10.84,105],[10.85,110],[10.86,116],[10.87,108],[10.88,102],[10.89,98],[10.90,96],[10.91,100],[10.92,104],[10.93,108],[10.94,112],[10.95,115],[10.96,110],[10.97,145],[10.98,125],[10.99,120],[11.0,128],[11.01,125],[11.02,132],[11.03,130],[11.04,127],[11.05,133],[11.06,128],[11.07,130],[11.08,125],[11.09,128],[11.10,122],[11.11,126],[11.12,130],[11.13,134],[11.14,128],[11.15,125],[11.16,137],[11.17,130],[11.18,126],[11.19,120],[11.20,118],[11.21,122],[11.22,125],[11.23,128],[11.24,122],[11.25,120],[11.26,124],[11.27,118],[11.28,105],[11.29,125],[11.30,120],[11.31,122],[11.32,118],[11.33,125],[11.34,120],[11.35,115],[11.36,123],[11.37,118],[11.38,125],[11.39,130],[11.40,140],[11.41,147],[11.42,154],[11.43,150],[11.44,145],[11.45,133],[11.46,128],[11.47,120],[11.48,115],[11.49,118],[11.50,122],[11.51,126],[11.52,130],[11.53,128],[11.54,132],[11.55,125],[11.56,130],[11.57,126],[11.58,128],[11.59,124],[11.60,118],[11.61,112],[11.62,105],[11.63,98],[11.64,95],[11.65,85],[11.66,80],[11.67,77],[11.68,82],[11.69,88],[11.70,95],[11.71,100],[11.72,104],[11.73,106],[11.74,108],[11.75,110],[11.76,112],[11.77,105],[11.78,108],[11.79,110],[11.80,112],[11.81,196],[11.815,158],[11.82,0],[11.83,320],[11.84,305],[11.85,330],[11.86,300],[11.87,310],[11.88,295],[11.89,288],[11.90,300],[11.91,315],[11.92,305],[11.93,290],[11.94,312],[11.95,320],[11.96,300],[11.97,295],[11.98,310],[11.99,330],[12.0,318],[12.02,285],[12.03,196],[12.04,350],[12.05,0],[12.06,355],[12.07,345],[12.08,358],[12.09,340],[12.10,330],[12.11,320],[12.12,338],[12.13,310],[12.14,300],[12.15,305],[12.16,295],[12.17,300],[12.18,350],[12.19,330],[12.20,340],[12.21,345],[12.22,355],[12.23,335],[12.24,330],[12.25,325]]

// T axis decoration (log decades and minor marks)
const tMin = 5800
const tMax = 950000
const tMajor = [1e4, 1e5]
const tMinor = [6e3, 7e3, 8e3, 9e3, 2e4, 3e4, 4e4, 5e4, 6e4, 7e4, 8e4, 9e4, 2e5, 3e5, 4e5, 5e5, 6e5, 7e5, 8e5, 9e5]

const serif = 'DejaVu Serif'
const redA = '#d41547'   // density, speed, temperature
const redB = '#ff1a1a'   // field panels
const green = '#1fcc1f'
const ink = '#222'

const panelTop = [2.7, 173.95, 345.2, 516.45, 687.7, 858.95]
const panelH = 171.25

let grids = []
let xAxes = []
let yAxes = []
let series = []

panelTop.forEach((top, i) => {
  grids.push({ left: 137, top: top, width: 929, height: panelH })
  const xBase = {
    type: 'value', gridIndex: i, min: dayMin, max: dayMax, interval: 0.25,
    splitLine: { show: false },
    axisLine: { show: true, onZero: false, lineStyle: { color: '#000', width: 1.3 } },
    axisTick: { show: true, inside: true, length: 6, lineStyle: { color: '#000', width: 1.2 } }
  }
  xAxes.push(Object.assign({}, xBase, {
    position: 'bottom',
    axisLabel: {
      show: i === 5, interval: 0, margin: 17, fontFamily: serif, fontSize: 28, color: ink,
      formatter: v => Math.abs(v - Math.round(v)) < 1e-6 ? String(Math.round(v)) : ''
    }
  }))
  xAxes.push(Object.assign({}, xBase, { position: 'top', axisLabel: { show: false } }))
})

// left axis with labels + right axis with ticks only
function addLinearY(i, min, max, interval, minor, fmt) {
  const base = {
    type: 'value', gridIndex: i, min: min, max: max, interval: interval,
    splitLine: { show: false },
    axisTick: { show: true, inside: true, length: 19, lineStyle: { color: '#333', width: 1.2 } },
    minorTick: { show: !!minor, splitNumber: minor || 5, length: 10, lineStyle: { color: '#333', width: 1.2 } }
  }
  yAxes.push(Object.assign({}, base, {
    position: 'left',
    axisLine: { show: true, onZero: false, lineStyle: { color: '#000', width: 1.3 } },
    axisLabel: { fontFamily: serif, fontSize: 25, color: ink, margin: 11, showMinLabel: false, showMaxLabel: false, formatter: fmt }
  }))
  yAxes.push(Object.assign({}, base, { position: 'right', axisLine: { show: false }, axisLabel: { show: false } }))
  return yAxes.length - 2
}

const fixed = v => v < 10 ? v.toFixed(2) : v.toFixed(1)
const signed = v => v < 0 ? '\u2212' + Math.abs(v) : String(v)

const yNp = addLinearY(0, 0, 32, 8, 0, fixed)
const yV = addLinearY(1, 250, 850, 150, 0, v => String(v))

// temperature: log axis carries the data, linear axes in log10 units carry the ticks
yAxes.push({ type: 'log', gridIndex: 2, min: tMin, max: tMax, logBase: 10, show: false })
const yT = yAxes.length - 1
const lo = Math.log10(tMin)
const hi = Math.log10(tMax)
const majorExp = tMajor.map(Math.log10)
const minorExp = tMinor.map(Math.log10)
;['left', 'right'].forEach(pos => {
  const base = { type: 'value', gridIndex: 2, min: lo, max: hi, position: pos, splitLine: { show: false } }
  yAxes.push(Object.assign({}, base, {
    axisLine: { show: pos === 'left', onZero: false, lineStyle: { color: '#000', width: 1.3 } },
    axisTick: { show: true, inside: true, length: 19, customValues: majorExp, lineStyle: { color: '#333', width: 1.2 } },
    axisLabel: {
      show: pos === 'left', customValues: majorExp, fontFamily: serif, fontSize: 25, color: ink, margin: 11,
      formatter: v => '10' + (Math.round(v) === 4 ? '\u2074' : '\u2075')
    }
  }))
  yAxes.push(Object.assign({}, base, {
    axisLine: { show: false },
    axisTick: { show: true, inside: true, length: 10, customValues: minorExp, lineStyle: { color: '#333', width: 1.2 } },
    axisLabel: { show: false }
  }))
})

const yB = addLinearY(3, 0, 24, 6, 0, fixed)
const yTh = addLinearY(4, -90, 90, 30, 3, signed)
const yPhi = addLinearY(5, 0, 360, 90, 3, v => String(v))

function line(i, yIdx, data, color, width) {
  return {
    type: 'line', xAxisIndex: 2 * i, yAxisIndex: yIdx, data: data,
    symbol: 'none', showSymbol: false, silent: true, animation: false,
    lineStyle: { color: color, width: width || 1.2 }, itemStyle: { color: color }
  }
}

function dots(data, color) {
  return {
    type: 'scatter', xAxisIndex: 10, yAxisIndex: yPhi, data: data,
    symbol: 'rect', symbolSize: 2.4, silent: true, animation: false,
    itemStyle: { color: color }
  }
}

// dotted boundary lines through every panel
function markers(i, yIdx, extra) {
  const dotted = [
    { xAxis: shockRed, lineStyle: { color: '#ff2020', type: [3.5, 5.5], width: 3.5 } },
    { xAxis: shockGreen, lineStyle: { color: '#33ee33', type: [3.5, 5.5], width: 3.5 } }
  ]
  return {
    type: 'line', xAxisIndex: 2 * i, yAxisIndex: yIdx, data: [], z: 5, silent: true, animation: false,
    markLine: { silent: true, animation: false, symbol: ['none', 'none'], label: { show: false }, data: dotted.concat(extra || []) }
  }
}

series.push(line(0, yNp, npRed, redA))
series.push(line(0, yNp, npGreen, green))
series.push(line(0, yNp, npRedFit, '#000', 6))
series.push(line(0, yNp, npRedFit, '#e82020', 2.6))
series.push(line(0, yNp, npGreenFit, '#000', 6))
series.push(line(0, yNp, npGreenFit, '#22e022', 2.6))
series.push(markers(0, yNp))

series.push(line(1, yV, vRed, redA))
series.push(line(1, yV, vGreen, green))
series.push(markers(1, yV))

series.push(line(2, yT, tRed, redA))
series.push(line(2, yT, tGreen, green))
series.push(markers(2, yT))

series.push(line(3, yB, bRed, redB))
series.push(line(3, yB, bGreen, green))
series.push(markers(3, yB))

series.push(line(4, yTh, thRed, redB))
series.push(line(4, yTh, thGreen, green))
series.push(markers(4, yTh, [{ yAxis: 0, lineStyle: { color: '#000', type: [13, 12], width: 2.2 } }]))

series.push(dots(phiRed, redB))
series.push(dots(phiGreen, green))
series.push(markers(5, yPhi))

function vText(x, y, text, italic) {
  return {
    type: 'text', x: x, y: y, rotation: Math.PI / 2, silent: true,
    style: { text: text, fontFamily: serif, fontSize: 30, fontStyle: italic ? 'italic' : 'normal', fill: ink, align: 'center', verticalAlign: 'middle' }
  }
}

function note(x, y, text, size) {
  return {
    type: 'text', x: x, y: y, silent: true,
    style: { text: text, fontFamily: serif, fontSize: size || 22, fill: ink, align: 'center', verticalAlign: 'middle' }
  }
}

function stroke(points, color) {
  return { type: 'polyline', silent: true, shape: { points: points }, style: { stroke: color || '#333', lineWidth: 1.2, fill: null } }
}

const graphics = [
  vText(40, 90, 'n\u209a (cm\u207b\u00b3)'),
  vText(45, 260, 'V (km/s)'),
  vText(48, 431, 'T (K)'),
  vText(40, 603, 'B (nT)'),
  vText(34, 773, '\u03b8', true),
  vText(40, 945, '\u03d5', true),
  note(601, 1100, 'Day of March 2011', 29),
  note(221, 33, 'CIR', 21),
  note(1005, 33, 'CIR', 21),
  note(496, 25, 'CME2 Shock', 22),
  stroke([[413, 24], [378, 24]]),
  stroke([[387, 18], [378, 24], [387, 30]]),
  stroke([[581, 24], [613, 24]]),
  stroke([[604, 18], [613, 24], [604, 30]]),
  note(823, 22, 'CME1  FR?', 22),
  stroke([[729, 73], [729, 32], [918, 32], [918, 73]], '#555')
]

let option = {
  backgroundColor: '#fff',
  animation: false,
  grid: grids,
  xAxis: xAxes,
  yAxis: yAxes,
  series: series,
  graphic: graphics
}

let chartDom = document.getElementById('main')
let myChart = echarts.init(chartDom, null, { renderer: 'canvas' })
myChart.setOption(option)
</script>
</body>
</html>
